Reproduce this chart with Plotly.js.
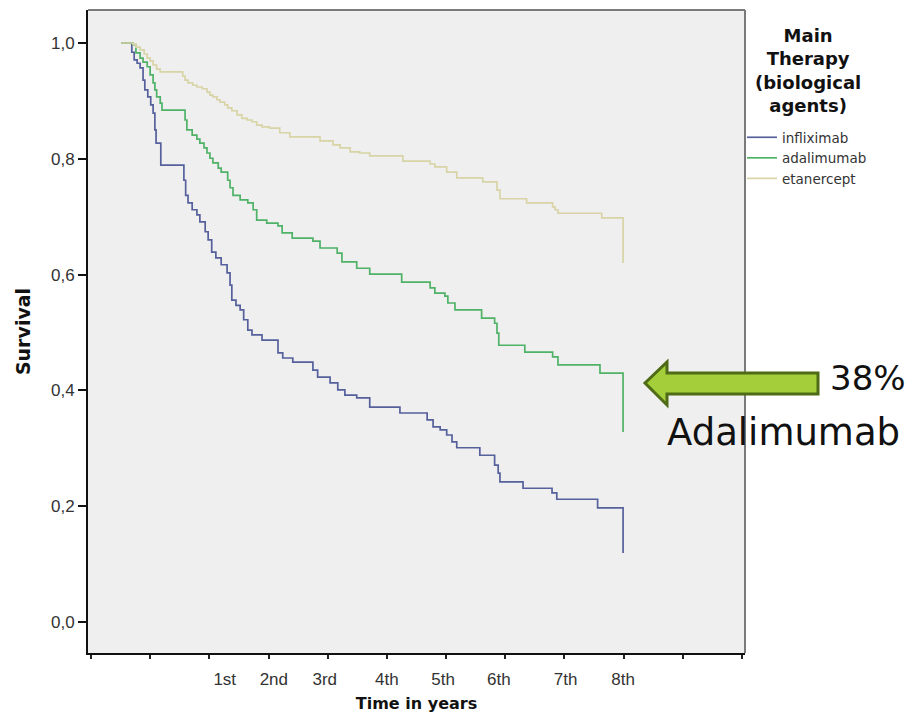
<!DOCTYPE html>
<html>
<head>
<meta charset="utf-8">
<script src="https://cdn.plot.ly/plotly-3.0.1.min.js"></script>
<style>
  html, body { margin: 0; padding: 0; background: #ffffff; }
  #chart { width: 912px; height: 716px; }
</style>
</head>
<body>
<div id="chart"></div>
<script>
// ---- data (time in axis tick units, survival proportion) ----
const seriesNames = ['infliximab', 'adalimumab', 'etanercept'];

const infliximabTime = [0.51,0.69,0.73,0.78,0.83,0.88,0.91,0.96,1.01,1.05,1.08,1.10,1.18,1.57,1.60,1.64,1.71,1.79,1.84,1.93,1.98,2.04,2.11,2.20,2.30,2.35,2.38,2.45,2.52,2.58,2.65,2.72,2.89,3.16,3.24,3.41,3.75,3.83,4.04,4.17,4.29,4.49,4.71,5.22,5.68,5.78,5.90,6.01,6.10,6.18,6.57,6.82,6.88,6.91,7.30,7.79,7.87,8.56,8.99];
const infliximabSurvival = [1.000,0.984,0.971,0.965,0.957,0.936,0.919,0.907,0.893,0.879,0.850,0.827,0.789,0.763,0.737,0.724,0.712,0.703,0.691,0.674,0.660,0.639,0.629,0.617,0.603,0.582,0.556,0.547,0.539,0.522,0.504,0.496,0.487,0.465,0.456,0.449,0.435,0.423,0.413,0.401,0.392,0.387,0.371,0.361,0.349,0.337,0.332,0.323,0.311,0.301,0.288,0.271,0.257,0.242,0.231,0.223,0.212,0.197,0.119];

const adalimumabTime = [0.51,0.71,0.76,0.83,0.88,0.95,1.00,1.05,1.08,1.11,1.17,1.20,1.59,1.62,1.71,1.79,1.84,1.91,1.96,2.01,2.06,2.15,2.20,2.31,2.35,2.40,2.52,2.65,2.74,2.80,2.97,3.16,3.23,3.40,3.75,3.87,4.16,4.24,4.49,4.71,5.25,5.73,5.81,5.98,6.03,6.15,6.60,6.82,6.86,6.89,7.33,7.80,7.89,8.60,8.99];
const adalimumabSurvival = [1.000,0.997,0.983,0.974,0.967,0.959,0.945,0.931,0.919,0.907,0.896,0.884,0.867,0.850,0.841,0.834,0.827,0.819,0.810,0.801,0.793,0.784,0.777,0.763,0.750,0.737,0.729,0.724,0.712,0.694,0.689,0.684,0.672,0.663,0.658,0.646,0.637,0.622,0.611,0.601,0.587,0.577,0.568,0.563,0.551,0.539,0.525,0.516,0.499,0.478,0.466,0.458,0.444,0.430,0.328];

const etanerceptTime = [0.51,0.71,0.76,0.83,0.90,0.95,1.00,1.05,1.11,1.17,1.55,1.59,1.64,1.72,1.79,1.88,1.96,2.01,2.06,2.13,2.18,2.26,2.31,2.38,2.47,2.55,2.64,2.72,2.80,2.89,3.02,3.19,3.36,3.87,4.09,4.21,4.38,4.54,4.71,5.27,5.73,5.81,6.01,6.18,6.62,6.86,6.91,7.36,7.80,7.84,7.89,8.63,8.99];
const etanerceptSurvival = [1.000,0.998,0.993,0.988,0.981,0.974,0.969,0.962,0.955,0.950,0.943,0.936,0.931,0.927,0.924,0.921,0.915,0.910,0.907,0.902,0.898,0.893,0.888,0.883,0.876,0.870,0.867,0.864,0.858,0.855,0.853,0.845,0.838,0.831,0.824,0.819,0.812,0.810,0.805,0.796,0.791,0.786,0.777,0.767,0.760,0.746,0.731,0.724,0.717,0.712,0.706,0.698,0.620];

const xTickPositions = [0,1,2,3,4,5,6,7,8,9,10,11];
const yearLabelPositions = [2.26,3.09,3.95,5.00,5.95,6.89,8.02,8.99];
const yearLabels = ['1st','2nd','3rd','4th','5th','6th','7th','8th'];
const yTickValues = [0,0.2,0.4,0.6,0.8,1.0];

const legendTitle = 'Main<br>Therapy<br>(biological<br>agents)';
const calloutPercent = '38%';
const calloutName = 'Adalimumab';

// ---- styles ----
const colors = ['#55609c', '#4fb267', '#d8d4a6'];
const times = [infliximabTime, adalimumabTime, etanerceptTime];
const survs = [infliximabSurvival, adalimumabSurvival, etanerceptSurvival];

const traces = seriesNames.map((name, i) => ({
  type: 'scatter',
  mode: 'lines',
  name: name,
  x: times[i],
  y: survs[i],
  line: { shape: 'hv', color: colors[i], width: 1.7 },
  hoverinfo: 'x+y+name'
}));

// carrier for the year label axis (no visible marks)
traces.push({
  type: 'scatter',
  mode: 'markers',
  x: yearLabelPositions,
  y: yearLabelPositions.map(() => null),
  xaxis: 'x2',
  yaxis: 'y',
  showlegend: false,
  hoverinfo: 'skip',
  marker: { opacity: 0 }
});

// paper coords helpers for decoration (plot area: 88..745 x, 10..653 y)
const L = 88, R = 745, T = 10, B = 653;
const px = v => (v - L) / (R - L);
const py = v => (B - v) / (B - T);

const arrowPath = 'M ' + px(645) + ' ' + py(383) +
  ' L ' + px(667) + ' ' + py(362) +
  ' L ' + px(667) + ' ' + py(373) +
  ' L ' + px(818) + ' ' + py(373) +
  ' L ' + px(818) + ' ' + py(394) +
  ' L ' + px(667) + ' ' + py(394) +
  ' L ' + px(667) + ' ' + py(405) + ' Z';

const xRange = [-0.05, 11.05];

const layout = {
  width: 912,
  height: 716,
  margin: { l: L, r: 912 - R, t: T, b: 716 - B, pad: 0 },
  paper_bgcolor: '#ffffff',
  plot_bgcolor: '#efefef',
  separators: ', ',
  showlegend: true,
  legend: {
    x: px(742), xanchor: 'left',
    y: py(122), yanchor: 'top',
    bgcolor: 'rgba(0,0,0,0)',
    font: { family: 'DejaVu Sans, sans-serif', size: 13.5, color: '#333333' },
    itemwidth: 30,
    tracegroupgap: 0
  },
  xaxis: {
    range: xRange,
    tickmode: 'array',
    tickvals: xTickPositions,
    showticklabels: false,
    ticks: 'outside',
    ticklen: 4,
    tickwidth: 2,
    tickcolor: '#222222',
    showline: true,
    linecolor: '#111111',
    linewidth: 2,
    showgrid: false,
    zeroline: false,
    title: {
      text: 'Time in years',
      font: { family: 'DejaVu Sans, sans-serif', size: 16, color: '#111111', weight: 'bold' },
      standoff: 40
    }
  },
  xaxis2: {
    overlaying: 'x',
    anchor: 'y',
    side: 'bottom',
    range: xRange,
    tickmode: 'array',
    tickvals: yearLabelPositions,
    ticktext: yearLabels,
    ticks: '',
    ticklabelstandoff: 14,
    tickfont: { family: 'Liberation Sans, Arial, sans-serif', size: 17, color: '#333333' },
    showline: false,
    showgrid: false,
    zeroline: false
  },
  yaxis: {
    range: [-0.0535, 1.057],
    tickmode: 'array',
    tickvals: yTickValues,
    tickformat: '.1f',
    ticks: 'outside',
    ticklen: 8,
    tickwidth: 2,
    tickcolor: '#111111',
    tickfont: { family: 'Liberation Sans, Arial, sans-serif', size: 17, color: '#333333' },
    showline: true,
    linecolor: '#111111',
    linewidth: 2,
    showgrid: false,
    zeroline: false,
    title: {
      text: 'Survival',
      font: { family: 'DejaVu Sans, sans-serif', size: 19, color: '#111111', weight: 'bold' },
      standoff: 15
    }
  },
  shapes: [
    { type: 'line', xref: 'paper', yref: 'paper', x0: 0, x1: 1, y0: 1, y1: 1,
      line: { color: '#7a7a7a', width: 2 } },
    { type: 'line', xref: 'paper', yref: 'paper', x0: 1, x1: 1, y0: 0, y1: 1,
      line: { color: '#7a7a7a', width: 2 } },
    { type: 'path', xref: 'paper', yref: 'paper', path: arrowPath,
      fillcolor: '#a4cf3a', line: { color: '#4e6b16', width: 3 }, layer: 'above' }
  ],
  annotations: [
    { xref: 'paper', yref: 'paper', x: px(808), y: py(70), xanchor: 'center', yanchor: 'middle',
      text: '<b>' + legendTitle + '</b>', showarrow: false, align: 'center',
      font: { family: 'DejaVu Sans, sans-serif', size: 18, color: '#111111' } },
    { xref: 'paper', yref: 'paper', x: px(908), y: py(378), xanchor: 'right', yanchor: 'middle',
      text: calloutPercent, showarrow: false,
      font: { family: 'DejaVu Sans, sans-serif', size: 34, color: '#111111' } },
    { xref: 'paper', yref: 'paper', x: px(665), y: py(432), xanchor: 'left', yanchor: 'middle',
      text: calloutName, showarrow: false,
      font: { family: 'DejaVu Sans, sans-serif', size: 37, color: '#111111' } }
  ]
};

Plotly.newPlot('chart', traces, layout, { displayModeBar: false, staticPlot: true });
</script>
</body>
</html>
